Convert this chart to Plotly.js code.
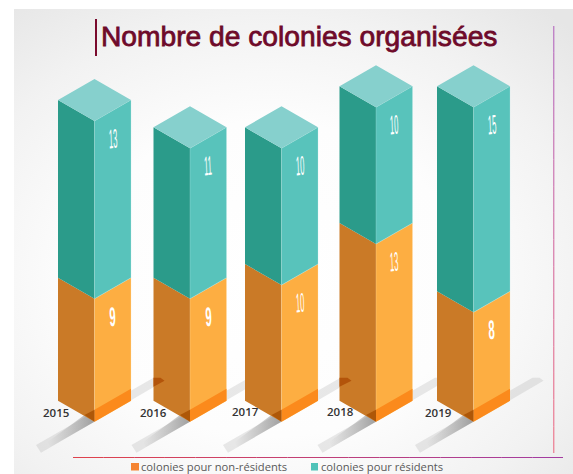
<!DOCTYPE html>
<html>
<head>
<meta charset="utf-8">
<script src="https://cdn.plot.ly/plotly-3.0.1.min.js"></script>
<style>
html,body{margin:0;padding:0;background:#fff;width:573px;height:474px;overflow:hidden}
#bg{position:absolute;left:14px;top:9px;width:559px;height:465px;background:radial-gradient(ellipse 430px 350px at 256px 270px,#ffffff 0%,#fdfdfd 45%,#f2f2f2 75%,#e6e6e6 100%)}
#chart{position:absolute;left:0;top:0;width:573px;height:474px}
</style>
</head>
<body>
<div id="bg"></div>
<div id="chart"></div>
<script>
// ---- data ----
var years = ['2015', '2016', '2017', '2018', '2019'];
var nonResidents = [9, 9, 10, 13, 8];
var residents = [13, 11, 10, 10, 15];
var seriesNames = ['colonies pour non-résidents', 'colonies pour résidents'];
var chartTitle = 'Nombre de colonies organisées';

// ---- scene geometry ----
var W = 573, H = 474;
var slots = [94.5, 190, 281.5, 376, 473.5];     // x of each bar's front edge
var yearX = [56, 153, 245, 340, 438.5];
var yearDy = [0, 0.5, -1, -0.5, 0.5];
var PX = 13.67;            // pixels per colony
var BASE = 421.7;          // pixel row of value 0
var hw = 36.5;             // half bar width
var u = function (p) { return p / PX; };
var rise = u(21);

function poly(list) {
  var xs = [], ys = [];
  list.forEach(function (pts) {
    if (xs.length) { xs.push(null); ys.push(null); }
    pts.forEach(function (p) { xs.push(p[0]); ys.push(p[1]); });
    xs.push(pts[0][0]); ys.push(pts[0][1]);
  });
  return { x: xs, y: ys };
}
function faceTrace(list, color, edge, name) {
  var p = poly(list);
  return {
    type: 'scatter', mode: 'lines', x: p.x, y: p.y, fill: 'toself', fillcolor: color,
    line: { width: edge ? 1 : 0, color: edge || color }, hoverinfo: 'skip', showlegend: false, name: name || ''
  };
}

var traces = [];

// ground shadows
slots.forEach(function (c) {
  var rel = function (a) { return [c + a[0], u(a[1])]; };
  traces.push(faceTrace([[[-53.5, -31], [-58.5, -23.3], [59, 44], [66, 44], [70, 41], [0, 0]].map(rel)], 'rgba(175,175,175,0.27)'));
  var s = poly([[[0, 0], [-44, -25.4], [-47, -20.4], [-10, 6.7]].map(rel)]);
  traces.push({
    type: 'scatter', mode: 'lines', x: s.x, y: s.y, fill: 'toself', line: { width: 0 }, hoverinfo: 'skip', showlegend: false,
    fillgradient: { type: 'horizontal', start: c - 47, stop: c - 2, colorscale: [[0, 'rgba(110,110,110,0)'], [1, 'rgba(80,80,80,0.45)']] }
  });
});

// bar faces
function leftFaces(from, to) {
  return slots.map(function (c, i) {
    return [[c, from[i]], [c, to[i]], [c - hw, to[i] + rise], [c - hw, from[i] + rise]];
  });
}
function rightFaces(from, to) {
  return slots.map(function (c, i) {
    return [[c, from[i]], [c, to[i]], [c + hw, to[i] + rise], [c + hw, from[i] + rise]];
  });
}
var zeros = years.map(function () { return 0; });
var totals = years.map(function (_, i) { return nonResidents[i] + residents[i]; });

traces.push(faceTrace(leftFaces(zeros, nonResidents), '#ca7a27', null, seriesNames[0]));
traces.push(faceTrace(rightFaces(zeros, nonResidents), '#fdae42', 'rgba(255,225,180,0.28)', seriesNames[0]));
traces.push(faceTrace(leftFaces(nonResidents, totals), '#2b9b8a', null, seriesNames[1]));
traces.push(faceTrace(rightFaces(nonResidents, totals), '#58c3bb', 'rgba(190,235,230,0.28)', seriesNames[1]));
traces.push(faceTrace(slots.map(function (c, i) {
  var t = totals[i];
  return [[c, t], [c + hw, t + rise], [c, t + 2 * rise], [c - hw, t + rise]];
}), '#86d0cd', null, seriesNames[1]));

// shadow seen through the bar foot
traces.push(faceTrace(slots.map(function (c) {
  return [[c, 0], [c + hw, rise], [c + hw, rise + u(12)], [c, u(12)]];
}), '#fb8a1c'));
traces.push(faceTrace(slots.map(function (c) {
  return [[c, 0], [c, u(12)], [c - 10, u(6.7)]];
}), '#ae5708'));
traces.push(faceTrace([0, 2].map(function (i) {
  var c = slots[i], l = slots[i + 1] - hw;
  return [[l, u(44)], [c + 66, u(44)], [c + 70, u(41)], [l, u(421.7 - 386.7)]];
}), '#b3540a'));

// ---- annotations ----
var annotations = [];
var labelScale = [];
function valueLabel(i, top, val) {
  var single = String(val).length === 1;
  annotations.push({
    xref: 'x', yref: 'y', x: slots[i] + 18, y: top - u(18), text: String(val), showarrow: false,
    font: { family: 'Liberation Sans', size: 27, color: '#ffffff', weight: single ? 700 : 400 },
    xanchor: 'center', yanchor: 'middle'
  });
  labelScale[annotations.length - 1] = single ? 0.42 : 0.28;
}
years.forEach(function (y, i) {
  valueLabel(i, nonResidents[i], nonResidents[i]);
  valueLabel(i, totals[i], residents[i]);
});
years.forEach(function (y, i) {
  annotations.push({
    xref: 'x', yref: 'y', x: yearX[i], y: u(BASE - 412 - yearDy[i]), text: y, showarrow: false,
    font: { family: 'Open Sans', size: 11.5, color: '#333333', weight: 600 }, xanchor: 'center', yanchor: 'middle'
  });
});
annotations.push({
  xref: 'x', yref: 'y', x: 141, y: u(BASE - 466), text: seriesNames[0], showarrow: false, xanchor: 'left', yanchor: 'middle',
  font: { family: 'Open Sans', size: 11.2, color: '#595959' }, xshift: -2
});
annotations.push({
  xref: 'x', yref: 'y', x: 321, y: u(BASE - 466), text: seriesNames[1], showarrow: false, xanchor: 'left', yanchor: 'middle',
  font: { family: 'Open Sans', size: 11.2, color: '#595959' }, xshift: -2
});

// ---- rules and legend swatches ----
function mix(a, b, t) {
  return 'rgb(' + a.map(function (v, k) { return Math.round(v + (b[k] - v) * t); }).join(',') + ')';
}
var shapes = [];
function pxShape(o) { o.xref = 'paper'; o.yref = 'paper'; o.layer = 'above'; return o; }
function fx(p) { return p / W; }
function fy(p) { return 1 - p / H; }
shapes.push(pxShape({ type: 'line', x0: fx(96), x1: fx(96), y0: fy(19), y1: fy(56), line: { color: '#7a0a2d', width: 2 } }));
var N = 16, k;
for (k = 0; k < N; k++) {
  shapes.push(pxShape({
    type: 'line', x0: fx(73 + (563 - 73) * k / N), x1: fx(73 + (563 - 73) * (k + 1) / N), y0: fy(457.5), y1: fy(457.5),
    line: { color: mix([222, 66, 78], [160, 60, 165], k / N), width: 1 }
  }));
  shapes.push(pxShape({
    type: 'line', x0: fx(553.8), x1: fx(553.8), y0: fy(26 + (453 - 26) * k / N), y1: fy(26 + (453 - 26) * (k + 1) / N),
    line: { color: mix([175, 90, 185], [240, 100, 120], k / N), width: 1 }
  }));
}
shapes.push(pxShape({ type: 'rect', x0: fx(131), x1: fx(139), y0: fy(463), y1: fy(470.5), line: { width: 0 }, fillcolor: '#f58432' }));
shapes.push(pxShape({ type: 'rect', x0: fx(311), x1: fx(318), y0: fy(463), y1: fy(470.5), line: { width: 0 }, fillcolor: '#50c3b9' }));

var layout = {
  width: W, height: H, autosize: false,
  margin: { l: 0, r: 0, t: 0, b: 0, pad: 0 },
  paper_bgcolor: 'rgba(0,0,0,0)', plot_bgcolor: 'rgba(0,0,0,0)',
  showlegend: false, hovermode: false, dragmode: false,
  title: {
    text: chartTitle, x: 101 / W, xref: 'paper', xanchor: 'left', y: 1 - 36.5 / H, yref: 'paper', yanchor: 'middle',
    font: { family: 'Liberation Sans', size: 28.2, color: '#6e0a2a', weight: 400 }, pad: { t: 0, b: 0, l: 0, r: 0 }
  },
  xaxis: { range: [0, W], visible: false, fixedrange: true },
  yaxis: { range: [u(BASE - H), u(BASE)], visible: false, fixedrange: true },
  annotations: annotations, shapes: shapes
};

Plotly.newPlot('chart', traces, layout, { displayModeBar: false, staticPlot: true }).then(function () {
  // the title is drawn slightly emboldened in the reference
  var title = document.querySelector('.gtitle');
  if (title) { title.style.stroke = '#6e0a2a'; title.style.strokeWidth = '0.8px'; }
  // the printed figures are tall condensed digits, slightly sheared along the bar face
  document.querySelectorAll('.annotation').forEach(function (g) {
    var i = +g.getAttribute('data-index');
    if (labelScale[i] === undefined) return;
    var t = g.querySelector('text');
    var b = t.getBBox();
    var cx = b.x + b.width / 2, cy = b.y + b.height / 2;
    t.setAttribute('transform', 'translate(' + cx + ',' + cy + ') matrix(' + labelScale[i] + ',-0.03,0.04,1,0,0) translate(' + (-cx) + ',' + (-cy) + ')');
  });
});
</script>
</body>
</html>
